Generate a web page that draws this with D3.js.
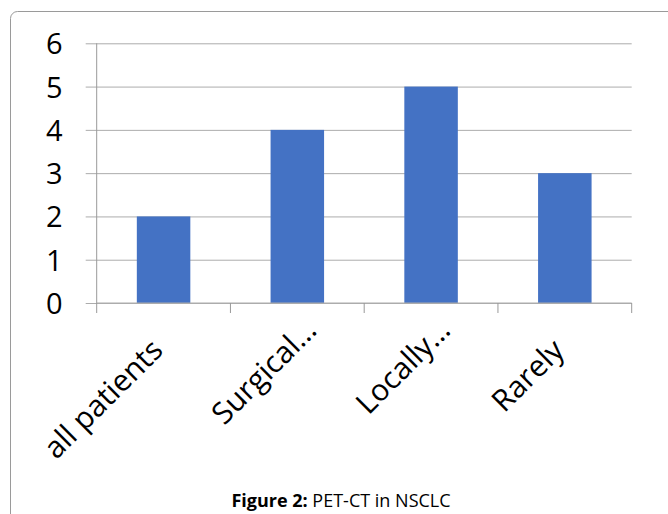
<!DOCTYPE html>
<html>
<head>
<meta charset="utf-8">
<title>PET-CT in NSCLC</title>
<script src="https://cdnjs.cloudflare.com/ajax/libs/d3/7.8.5/d3.min.js"></script>
<style>
    body { margin: 0; background: #fff; }
    svg { display: block; }
    text { font-family: "Open Sans", sans-serif; }
</style>
</head>
<body>
<div id="chart"></div>
<script>
    const categories = ["all patients", "Surgical...", "Locally...", "Rarely"];
    const values = [2, 4, 5, 3];
    const yTicks = [0, 1, 2, 3, 4, 5, 6];

    const W = 668, H = 514;
    const plot = { left: 96.7, right: 631.7, top: 43.3, bottom: 303 };

    const svg = d3.select("#chart").append("svg")
        .attr("width", W)
        .attr("height", H);

    // outer frame
    svg.append("rect")
        .attr("x", 10.5).attr("y", 11.5)
        .attr("width", 700).attr("height", 600)
        .attr("rx", 7)
        .attr("fill", "none")
        .attr("stroke", "#9a9a9a")
        .attr("stroke-width", 1);

    const x = d3.scaleBand()
        .domain(categories)
        .range([plot.left, plot.right])
        .padding(0);

    const y = d3.scaleLinear()
        .domain([0, 6])
        .range([plot.bottom, plot.top]);

    // gridlines + y labels
    const yAxis = svg.append("g")
        .attr("transform", `translate(${plot.left},0)`)
        .call(d3.axisLeft(y).tickValues(yTicks).tickFormat(d3.format("d"))
            .tickSize(-(plot.right - plot.left)).tickPadding(0));
    yAxis.select(".domain").remove();
    yAxis.selectAll(".tick line")
        .attr("x1", -11)
        .attr("stroke", "#acacac");
    yAxis.selectAll(".tick text")
        .attr("x", -34)
        .attr("dy", "0.36em")
        .attr("fill", "#000")
        .style("font-size", "29px");

    // vertical axis line
    svg.append("line")
        .attr("x1", plot.left).attr("x2", plot.left)
        .attr("y1", plot.top).attr("y2", plot.bottom)
        .attr("stroke", "#999");

    // bars
    const barW = x.bandwidth() * 0.4;
    svg.append("g")
        .selectAll("rect")
        .data(values)
        .join("rect")
        .attr("x", (d, i) => x(categories[i]) + (x.bandwidth() - barW) / 2)
        .attr("y", d => y(d))
        .attr("width", barW)
        .attr("height", d => y(0) - y(d))
        .attr("fill", "#4472c4");

    // x axis with ticks at category boundaries
    const xAxis = svg.append("g")
        .attr("transform", `translate(0,${plot.bottom})`);
    xAxis.append("line")
        .attr("x1", plot.left).attr("x2", plot.right)
        .attr("stroke", "#acacac");
    const bounds = categories.map(c => x(c)).concat([plot.right]);
    xAxis.selectAll(".bound")
        .data(bounds)
        .join("line")
        .attr("class", "bound")
        .attr("x1", d => d).attr("x2", d => d)
        .attr("y1", 0).attr("y2", 10)
        .attr("stroke", "#999");

    // truncated labels sit a bit higher, like in the source
    const labelPos = d => d.endsWith("...") ? [21, 29] : [1, 49];
    xAxis.selectAll(".cat")
        .data(categories)
        .join("text")
        .attr("class", "cat")
        .attr("text-anchor", "end")
        .attr("transform", d => {
            const [dx, dy] = labelPos(d);
            return `translate(${x(d) + x.bandwidth() / 2 + dx},${dy}) rotate(-45)`;
        })
        .style("font-size", "30px")
        .attr("fill", "#000")
        .text(d => d.replace("...", "\u2026"));

    // caption
    const cap = svg.append("text")
        .attr("x", 341)
        .attr("y", 507)
        .attr("text-anchor", "middle")
        .style("font-size", "18px")
        .attr("fill", "#000");
    cap.append("tspan").style("font-weight", "bold").text("Figure 2:");
    cap.append("tspan").text(" PET-CT in NSCLC");
</script>
</body>
</html>
